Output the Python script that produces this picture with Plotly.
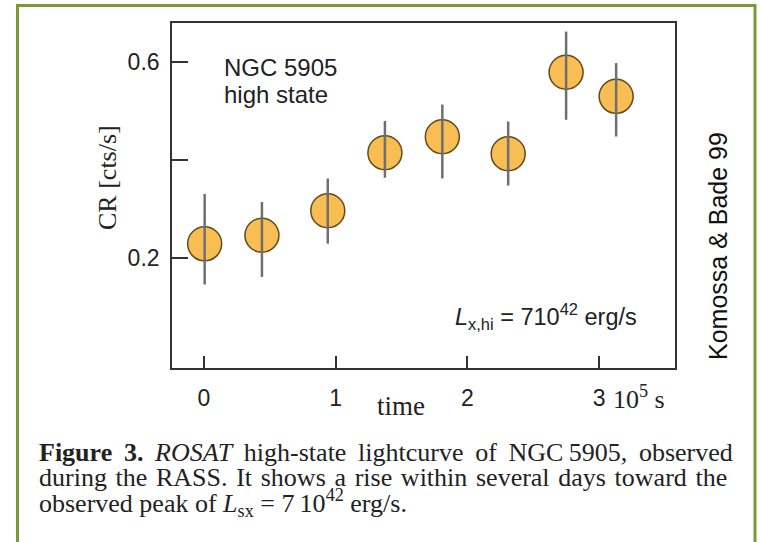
import plotly.graph_objects as go

# ---------------- data ----------------
time_1e5s = [0.005, 0.44, 0.94, 1.374, 1.81, 2.31, 2.75, 3.13]
cr = [0.229, 0.2465, 0.2965, 0.415, 0.4476, 0.413, 0.5794, 0.5302]
err_plus = [0.102, 0.068, 0.066, 0.065, 0.066, 0.066, 0.083, 0.068]
err_minus = [0.083, 0.085, 0.067, 0.051, 0.085, 0.065, 0.097, 0.082]

x_tick_vals = [0, 1, 2, 3]
x_tick_text = ["0", "1", "2", "3"]
y_tick_vals = [0.2, 0.4, 0.6]
y_tick_text = ["0.2", "", "0.6"]

W, H = 761, 542


def px(x):
    return x / W


def py(y):
    return 1 - y / H


SANS = "Liberation Sans, Arial, sans-serif"
SERIF = "Liberation Serif, Times New Roman, serif"

fig = go.Figure()

# markers
fig.add_trace(go.Scatter(
    x=time_1e5s, y=cr, mode="markers",
    marker=dict(size=34, color="#F8BD53", line=dict(color="#5E4B1E", width=1.5)),
    showlegend=False, hoverinfo="skip",
))
# error bars drawn on top of markers
fig.add_trace(go.Scatter(
    x=time_1e5s, y=cr, mode="markers",
    marker=dict(size=1, color="rgba(0,0,0,0)"),
    error_y=dict(type="data", symmetric=False, array=err_plus, arrayminus=err_minus,
                 color="#6f6f6f", thickness=2.5, width=0),
    showlegend=False, hoverinfo="skip",
))

fig.update_layout(
    width=W, height=H,
    margin=dict(l=0, r=0, t=0, b=0),
    paper_bgcolor="white", plot_bgcolor="white",
    font=dict(family=SANS, size=22, color="#222"),
    xaxis=dict(
        domain=[px(172), px(675)], range=[-0.243, 3.577],
        showgrid=False, zeroline=False,
        showline=True, linecolor="#333", linewidth=1.6, mirror=True,
        ticks="inside", ticklen=12, tickwidth=1.6, tickcolor="#333",
        tickvals=x_tick_vals, ticktext=x_tick_text,
        tickfont=dict(family=SANS, size=23, color="#222"),
        ticklabelstandoff=9,
    ),
    yaxis=dict(
        domain=[py(368), py(23)], range=[-0.0245, 0.68],
        showgrid=False, zeroline=False,
        showline=True, linecolor="#333", linewidth=1.6, mirror=True,
        ticks="inside", ticklen=16, tickwidth=1.6, tickcolor="#333",
        tickvals=y_tick_vals, ticktext=y_tick_text,
        tickfont=dict(family=SANS, size=23, color="#222"),
        ticklabelstandoff=6,
    ),
)

ann = []
ann.append(dict(text="NGC 5905", x=px(222), y=py(67), xanchor="left", yanchor="middle",
                font=dict(family=SANS, size=24, color="#222")))
ann.append(dict(text="high state", x=px(222), y=py(95), xanchor="left", yanchor="middle",
                font=dict(family=SANS, size=24, color="#222")))
ann.append(dict(text="<i>L</i><sub>x,hi</sub> = 710<sup>42</sup> erg/s", x=px(453), y=py(316),
                xanchor="left", yanchor="middle", font=dict(family=SANS, size=23.5, color="#222")))
ann.append(dict(text="Komossa &amp; Bade 99", x=px(718), y=py(246), textangle=-90,
                xanchor="center", yanchor="middle", font=dict(family=SANS, size=25, color="#111")))
ann.append(dict(text="CR [cts/s]", x=px(107), y=py(178), textangle=-90,
                xanchor="center", yanchor="middle", font=dict(family=SERIF, size=26, color="#222")))
ann.append(dict(text="time", x=px(401), y=py(406), xanchor="center", yanchor="middle",
                font=dict(family=SERIF, size=27, color="#222")))
ann.append(dict(text="10<sup>5</sup> s", x=px(611), y=py(397), xanchor="left", yanchor="middle",
                font=dict(family=SERIF, size=26, color="#222")))

G1 = " \u2009"   # slightly widened word gap (line 1, justified)
G2 = " \u200a"   # slightly widened word gap (line 2, justified)
caption = [
    G1.join(["<b>Figure", "3.</b>", "<i>ROSAT</i>", "high-state", "lightcurve", "of",
             "NGC\u20095905,", "observed"]),
    G2.join(["during", "the", "RASS.", "It", "shows", "a", "rise", "within", "several",
             "days", "toward", "the"]),
    "observed peak of <i>L</i><sub>sx</sub> = 7\u200910<sup>42</sup> erg/s.",
]
cap_y = [452, 477.5, 503]
for t, yy in zip(caption, cap_y):
    ann.append(dict(text=t, x=px(37), y=py(yy), xanchor="left", yanchor="middle",
                    font=dict(family=SERIF, size=26, color="#222")))

for a in ann:
    a.update(xref="paper", yref="paper", showarrow=False)
fig.update_layout(annotations=ann)

# green border (open at the bottom, runs off the page)
fig.add_shape(type="rect", xref="paper", yref="paper",
              x0=px(17.5), x1=px(755), y0=-0.2, y1=py(5.5),
              line=dict(color="#7A9A3A", width=3), fillcolor="rgba(0,0,0,0)", layer="above")

fig.write_html("out.html")
